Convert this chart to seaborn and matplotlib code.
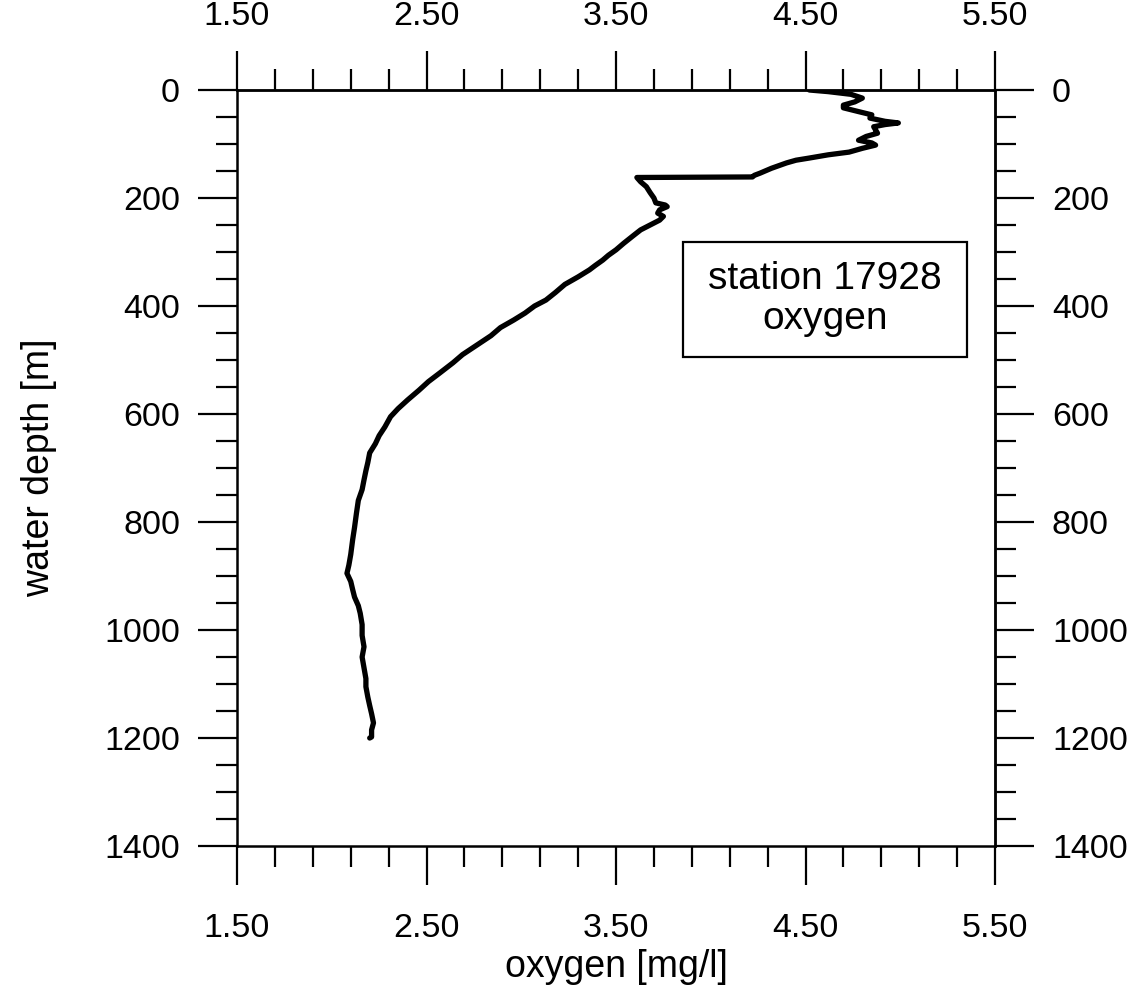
import matplotlib
matplotlib.use("Agg")
import matplotlib.pyplot as plt
import seaborn as sns
import numpy as np
from matplotlib.ticker import FixedLocator, FormatStrFormatter
from matplotlib.patches import Rectangle

depth = [0, 3, 8, 15, 22, 28, 33, 40, 46, 52, 58, 61, 64, 68, 74, 80, 86, 93, 98, 102,
         108, 115, 120, 126, 130, 135, 145, 154, 158, 161, 162, 170, 179, 190, 200, 209,
         213, 216, 222, 228, 234, 241, 250, 259, 270, 284, 296, 306, 315, 325, 333, 346,
         360, 375, 389, 400, 413, 426, 440, 455, 476, 490, 505, 524, 540, 556, 574, 590,
         605, 624, 640, 655, 672, 690, 705, 722, 740, 760, 784, 810, 833, 860, 880, 895,
         910, 925, 939, 955, 969, 990, 1010, 1031, 1050, 1070, 1090, 1105, 1124, 1140,
         1155, 1172, 1185, 1198, 1200]
oxygen = [4.52, 4.62, 4.74, 4.80, 4.76, 4.70, 4.70, 4.78, 4.85, 4.84, 4.92, 4.99, 4.92,
          4.86, 4.87, 4.88, 4.82, 4.78, 4.85, 4.87, 4.80, 4.73, 4.62, 4.52, 4.45, 4.40,
          4.32, 4.26, 4.23, 4.22, 3.61, 3.63, 3.66, 3.68, 3.70, 3.71, 3.76, 3.77, 3.73,
          3.72, 3.75, 3.73, 3.68, 3.63, 3.59, 3.54, 3.50, 3.46, 3.43, 3.39, 3.36, 3.30,
          3.23, 3.18, 3.13, 3.07, 3.02, 2.96, 2.89, 2.84, 2.75, 2.69, 2.64, 2.57, 2.51,
          2.46, 2.40, 2.35, 2.31, 2.28, 2.25, 2.23, 2.20, 2.19, 2.18, 2.17, 2.16, 2.14,
          2.13, 2.12, 2.11, 2.10, 2.09, 2.08, 2.10, 2.11, 2.12, 2.14, 2.15, 2.16, 2.16,
          2.17, 2.16, 2.17, 2.18, 2.18, 2.19, 2.20, 2.21, 2.22, 2.21, 2.21, 2.20]

x_ticks = [1.5, 2.5, 3.5, 4.5, 5.5]
x_minor = [1.7, 1.9, 2.1, 2.3, 2.7, 2.9, 3.1, 3.3, 3.7, 3.9, 4.1, 4.3, 4.7, 4.9, 5.1, 5.3]
y_ticks = [0, 200, 400, 600, 800, 1000, 1200, 1400]
y_minor = [50, 100, 150, 250, 300, 350, 450, 500, 550, 650, 700, 750, 850, 900, 950,
           1050, 1100, 1150, 1250, 1300, 1350]
box_text = "station 17928\noxygen"

sns.set_theme(style="white")
plt.rcParams['font.family'] = ['Liberation Sans', 'DejaVu Sans']
plt.rcParams['text.color'] = 'black'
plt.rcParams['axes.labelcolor'] = 'black'

fig = plt.figure(figsize=(11.43, 9.88), dpi=100)
ax = fig.add_axes([0.2074, 0.1437, 0.6631, 0.7652])

sns.lineplot(x=oxygen, y=depth, sort=False, estimator=None, color="black",
             linewidth=3.8, ax=ax)

ax.set_xlim(1.5, 5.5)
ax.set_ylim(1400, 0)

fs_tick = 24.5
fs_lab = 27
ax.xaxis.set_major_locator(FixedLocator(x_ticks))
ax.xaxis.set_minor_locator(FixedLocator(x_minor))
ax.yaxis.set_major_locator(FixedLocator(y_ticks))
ax.yaxis.set_minor_locator(FixedLocator(y_minor))
ax.xaxis.set_major_formatter(FormatStrFormatter("%.2f"))

for s in ax.spines.values():
    s.set_visible(True)
    s.set_color("black")
    s.set_linewidth(1.8)

ax.tick_params(axis="both", which="major", direction="out", length=28, width=1.6,
               colors="black", labelsize=fs_tick)
ax.tick_params(axis="both", which="minor", direction="out", length=15, width=1.6,
               colors="black")
ax.tick_params(axis="x", which="major", pad=20, bottom=True)
ax.tick_params(axis="x", which="minor", bottom=True)
ax.tick_params(axis="y", which="major", pad=13, left=True)
ax.tick_params(axis="y", which="minor", left=True)

secx = ax.secondary_xaxis("top")
secx.xaxis.set_major_locator(FixedLocator(x_ticks))
secx.xaxis.set_minor_locator(FixedLocator(x_minor))
secx.xaxis.set_major_formatter(FormatStrFormatter("%.2f"))
secx.tick_params(which="major", direction="out", length=28, width=1.6,
                 labelsize=fs_tick, pad=14, colors="black")
secx.tick_params(which="minor", direction="out", length=15, width=1.6, colors="black")
secx.spines["top"].set_linewidth(1.8)

secy = ax.secondary_yaxis("right")
secy.yaxis.set_major_locator(FixedLocator(y_ticks))
secy.yaxis.set_minor_locator(FixedLocator(y_minor))
secy.tick_params(which="major", direction="out", length=28, width=1.6,
                 labelsize=fs_tick, pad=13, colors="black")
secy.tick_params(which="minor", direction="out", length=15, width=1.6, colors="black")
secy.spines["right"].set_linewidth(1.8)

ax.set_xlabel("oxygen [mg/l]", fontsize=fs_lab, labelpad=4)
ax.set_ylabel("water depth [m]", fontsize=fs_lab, labelpad=34)

ax.add_patch(Rectangle((0.588, 0.647), 0.375, 0.152, transform=ax.transAxes,
                       facecolor="white", edgecolor="black", linewidth=1.6, zorder=3))
ax.text(0.776, 0.724, box_text, transform=ax.transAxes, fontsize=28,
        ha="center", va="center", linespacing=1.15, zorder=4)

fig.savefig("out.png", dpi=100)
